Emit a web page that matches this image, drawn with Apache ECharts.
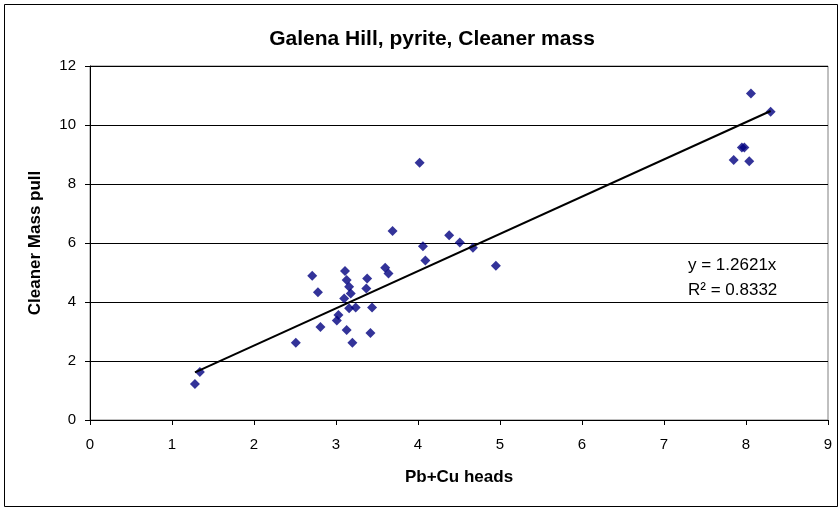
<!DOCTYPE html>
<html>
<head>
<meta charset="utf-8">
<script src="https://cdn.jsdelivr.net/npm/echarts@6/dist/echarts.min.js"></script>
<style>
  html, body { margin: 0; padding: 0; background: #fff; }
  #chart { width: 839px; height: 509px; }
</style>
</head>
<body>
<div id="chart"></div>
<script>
// data
const heads = [1.28, 1.34, 2.51, 2.71, 2.78, 2.81, 3.01, 3.03, 3.10, 3.11, 3.13, 3.13, 3.16, 3.16, 3.18, 3.20, 3.24,
               3.37, 3.38, 3.42, 3.44, 3.60, 3.64, 3.69, 4.02, 4.06, 4.09, 4.38, 4.51, 4.67, 4.95,
               7.85, 7.95, 7.98, 8.04, 8.06, 8.30];
const massPull = [1.22, 1.63, 2.62, 4.89, 4.33, 3.15, 3.37, 3.56, 4.12, 5.05, 4.75, 3.05, 4.52, 3.79, 4.29, 2.62, 3.81,
                  4.46, 4.80, 2.95, 3.81, 5.16, 4.97, 6.41, 8.72, 5.89, 5.41, 6.26, 6.02, 5.84, 5.23,
                  8.81, 9.24, 9.24, 8.77, 11.07, 10.45];
const slope = 1.2621;
const rSquared = 0.8332;
const xTicks = [0, 1, 2, 3, 4, 5, 6, 7, 8, 9];
const yTicks = [0, 2, 4, 6, 8, 10, 12];

const points = heads.map((x, i) => [x, massPull[i]]);
const xMin = Math.min.apply(null, heads);
const xMax = Math.max.apply(null, heads);
// linear trend through origin, drawn over the data range
const trend = [[xMin, slope * xMin], [xMax, slope * xMax]];

const font = '"Liberation Sans", Arial, sans-serif';

var myChart = echarts.init(document.getElementById('chart'));
var option = {
    animation: false,
    backgroundColor: '#fff',
    title: {
        text: 'Galena Hill, pyrite, Cleaner mass',
        left: 427,
        top: 24,
        textAlign: 'center',
        textStyle: { fontFamily: font, fontSize: 21, fontWeight: 'bold', color: '#000' }
    },
    graphic: [
        {
            type: 'rect',
            shape: { x: 4.5, y: 4.5, width: 833, height: 502 },
            style: { fill: 'none', stroke: '#000', lineWidth: 1 },
            silent: true
        },
        {
            type: 'text',
            left: 688,
            top: 257,
            style: { text: 'y = ' + slope + 'x', font: '17px ' + font, fill: '#000' }
        },
        {
            type: 'text',
            left: 688,
            top: 282,
            style: { text: 'R\u00B2 = ' + rSquared, font: '17px ' + font, fill: '#000' }
        }
    ],
    grid: {
        left: 90,
        right: 11,
        top: 66,
        bottom: 89,
        show: true,
        borderColor: '#808080',
        borderWidth: 1,
        backgroundColor: '#fff'
    },
    xAxis: {
        type: 'value',
        min: xTicks[0],
        max: xTicks[xTicks.length - 1],
        interval: 1,
        name: 'Pb+Cu heads',
        nameLocation: 'middle',
        nameGap: 49,
        nameTextStyle: { fontFamily: font, fontSize: 17, fontWeight: 'bold', color: '#000' },
        axisLine: { show: true, lineStyle: { color: '#000', width: 1 } },
        axisTick: { show: true, length: 5, lineStyle: { color: '#000' } },
        axisLabel: { fontFamily: font, fontSize: 15, color: '#000', margin: 17 },
        splitLine: { show: false }
    },
    yAxis: {
        type: 'value',
        min: yTicks[0],
        max: yTicks[yTicks.length - 1],
        interval: 2,
        name: 'Cleaner Mass pull',
        nameLocation: 'middle',
        nameGap: 46,
        nameTextStyle: { fontFamily: font, fontSize: 17, fontWeight: 'bold', color: '#000' },
        axisLine: { show: true, lineStyle: { color: '#000', width: 1 } },
        axisTick: { show: true, length: 5, lineStyle: { color: '#000' } },
        axisLabel: { fontFamily: font, fontSize: 15, color: '#000', margin: 14 },
        splitLine: { show: true, lineStyle: { color: '#000', width: 1 } }
    },
    series: [
        {
            name: 'Cleaner mass',
            type: 'scatter',
            symbol: 'diamond',
            symbolSize: 10,
            itemStyle: { color: '#000080' },
            data: points,
            z: 3
        },
        {
            name: 'Trend',
            type: 'line',
            symbol: 'none',
            lineStyle: { color: '#000', width: 2 },
            data: trend,
            z: 4
        }
    ]
};
myChart.setOption(option);
</script>
</body>
</html>
